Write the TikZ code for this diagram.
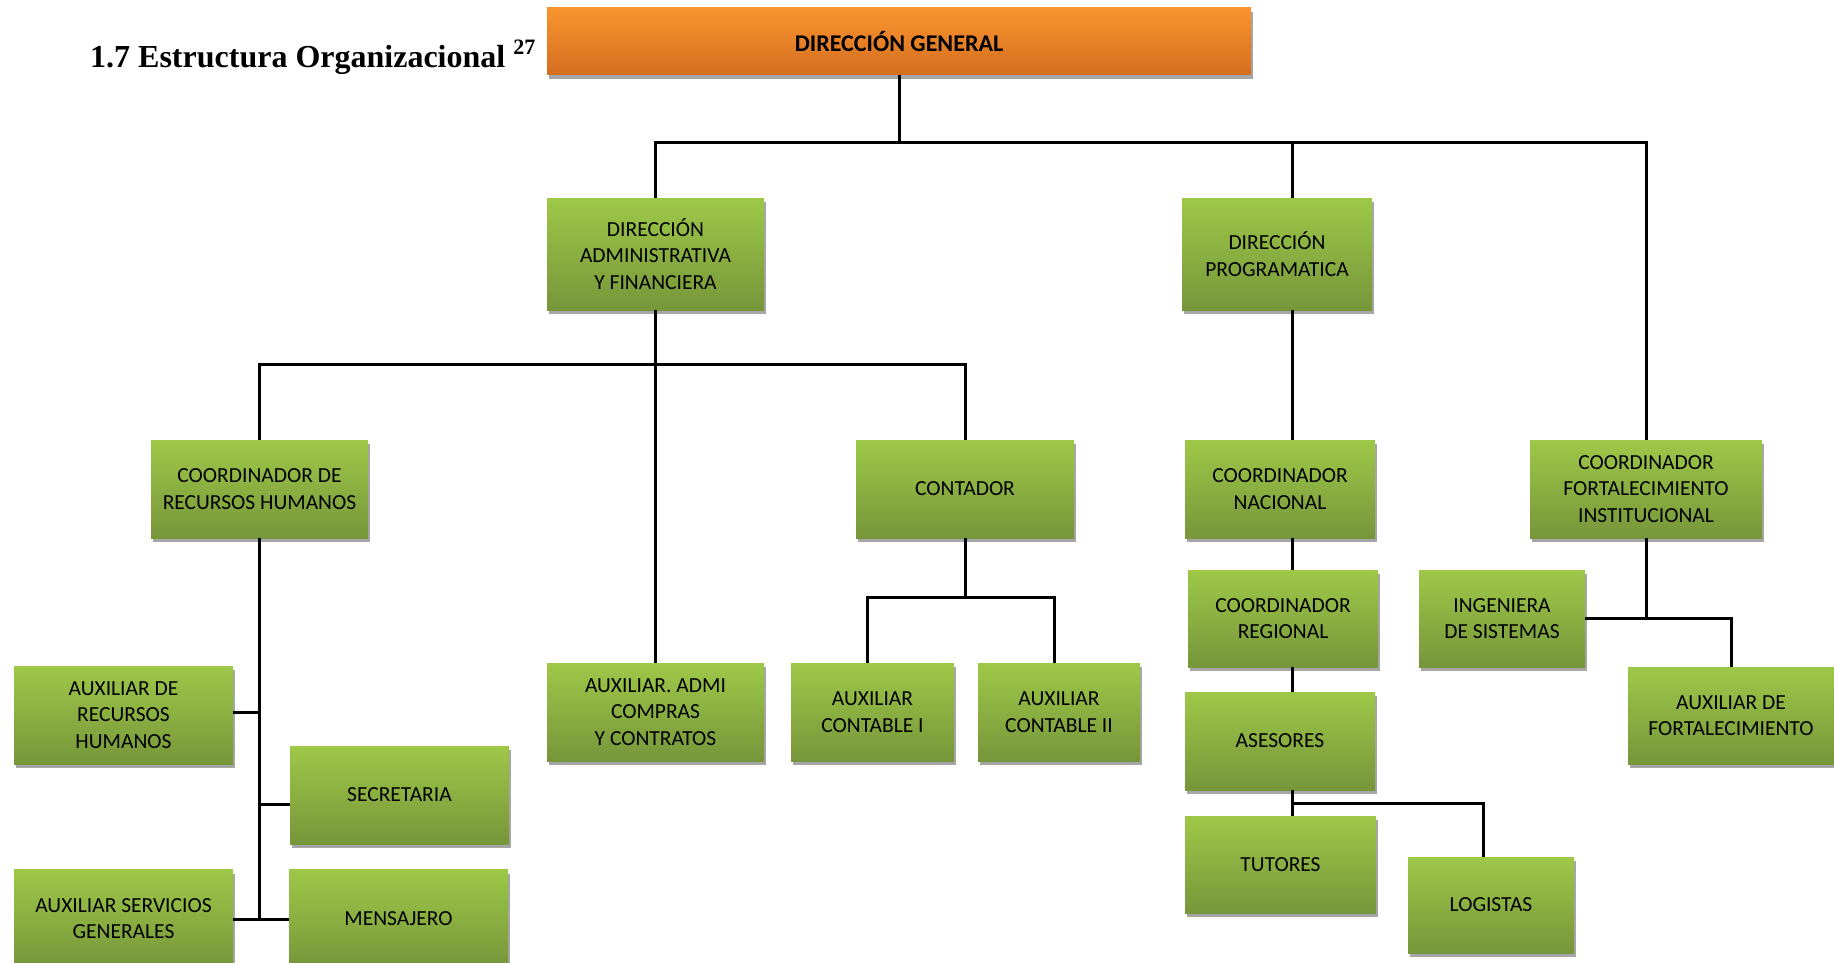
\documentclass[tikz,border=0pt]{standalone}
\usepackage{fontspec}
\setmainfont{Carlito}
\newfontfamily\titlefont{Liberation Serif}
\usetikzlibrary{shadows}
\definecolor{gtop}{RGB}{158,200,72}
\definecolor{gbot}{RGB}{118,150,58}
\definecolor{otop}{RGB}{250,148,46}
\definecolor{obot}{RGB}{212,110,32}
\definecolor{shgray}{RGB}{166,166,166}
\tikzset{
  base/.style={rectangle, inner sep=0pt, align=center,
    font=\fontsize{21.5}{26.5}\selectfont,
    general shadow={fill=shgray, shadow xshift=2pt, shadow yshift=-4pt}},
  gbox/.style={base, top color=gtop, bottom color=gbot},
  obox/.style={base, top color=otop, middle color=otop, bottom color=obot, font=\bfseries\fontsize{24}{28}\selectfont},
  conn/.style={line width=3pt, black},
}
\begin{document}
\begin{tikzpicture}[x=1pt, y=-1pt]
\useasboundingbox (0,0) rectangle (1834,963);
\node[anchor=base west, font=\titlefont\bfseries\fontsize{32}{36}\selectfont, inner sep=0pt] (title) at (90,68)
  {1.7 Estructura Organizacional {\fontsize{22}{22}\selectfont\raisebox{13pt}{27}}};

\node[obox, minimum width=704pt, minimum height=67pt] (dg) at (899,41.5) {DIRECCIÓN GENERAL};
\node[gbox, minimum width=217pt, minimum height=112pt] (daf) at (655.5,254) {DIRECCIÓN\\ADMINISTRATIVA\\Y FINANCIERA};
\node[gbox, minimum width=190pt, minimum height=112pt] (dp) at (1277,254) {DIRECCIÓN\\PROGRAMATICA};
\node[gbox, minimum width=217pt, minimum height=98pt] (crh) at (259.5,489) {COORDINADOR DE\\RECURSOS HUMANOS};
\node[gbox, minimum width=218pt, minimum height=98pt] (cont) at (965,489) {CONTADOR};
\node[gbox, minimum width=190pt, minimum height=98pt] (cn) at (1280,489) {COORDINADOR\\NACIONAL};
\node[gbox, minimum width=232pt, minimum height=98pt] (cfi) at (1646,489) {COORDINADOR\\FORTALECIMIENTO\\INSTITUCIONAL};
\node[gbox, minimum width=190pt, minimum height=97pt] (cr) at (1283,618.5) {COORDINADOR\\REGIONAL};
\node[gbox, minimum width=166pt, minimum height=97pt] (ing) at (1502,618.5) {INGENIERA\\DE SISTEMAS};
\node[gbox, minimum width=206pt, minimum height=97pt] (afort) at (1731,715.5) {AUXILIAR DE\\FORTALECIMIENTO};
\node[gbox, minimum width=219pt, minimum height=98pt] (arh) at (123.5,715) {AUXILIAR DE\\RECURSOS\\HUMANOS};
\node[gbox, minimum width=219pt, minimum height=98pt] (sec) at (399.5,795) {SECRETARIA};
\node[gbox, minimum width=219pt, minimum height=98pt] (asg) at (123.5,918.5) {AUXILIAR SERVICIOS\\GENERALES};
\node[gbox, minimum width=219pt, minimum height=98pt] (men) at (398.5,918.5) {MENSAJERO};
\node[gbox, minimum width=217pt, minimum height=98pt] (aadmi) at (655.5,712) {AUXILIAR. ADMI\\COMPRAS\\Y CONTRATOS};
\node[gbox, minimum width=163pt, minimum height=98pt] (ac1) at (872.5,712) {AUXILIAR\\CONTABLE I};
\node[gbox, minimum width=162pt, minimum height=98pt] (ac2) at (1059,712) {AUXILIAR\\CONTABLE II};
\node[gbox, minimum width=190pt, minimum height=98pt] (ases) at (1280,741) {ASESORES};
\node[gbox, minimum width=191pt, minimum height=97pt] (tut) at (1280.5,864.5) {TUTORES};
\node[gbox, minimum width=166pt, minimum height=96pt] (log) at (1491,905) {LOGISTAS};

% coordinates of junctions
\coordinate (j1) at (899,143);
\coordinate (px) at (1292,143);
\coordinate (j2) at (655.5,364);
\coordinate (t) at (259.5,919.5);
\coordinate (sa) at (259.5,712.5);
\coordinate (sb) at (259.5,804);
\coordinate (c1) at (867,597);
\coordinate (c2) at (1054,597);
\coordinate (lg) at (1483,803);

% top level
\draw[conn] (dg.south) -- (j1);
\draw[conn] (daf.north) |- (cfi.north |- j1) -- (cfi.north);
\draw[conn] (px) -- (px |- dp.north);
% administrative branch
\draw[conn] (daf.south) -- (aadmi.north);
\draw[conn] (crh.north) |- (cont.north |- j2) -- (cont.north);
% human resources
\draw[conn] (crh.south) -- (t);
\draw[conn] (asg.east |- t) -- (men.west |- t);
\draw[conn] (arh.east |- sa) -- (sa);
\draw[conn] (sb) -- (sec.west |- sb);
% contador
\draw[conn] (cont.south) -- (cont.south |- c1);
\draw[conn] (c1 |- ac1.north) -- (c1) -- (c2) -- (c2 |- ac2.north);
% programatica column
\draw[conn] (px |- dp.south) -- (px |- cn.north);
\draw[conn] (px |- cn.south) -- (px |- cr.north);
\draw[conn] (px |- cr.south) -- (px |- ases.north);
\draw[conn] (px |- ases.south) -- (px |- tut.north);
\draw[conn] (px |- lg) -- (lg) -- (lg |- log.north);
% fortalecimiento
\draw[conn] (cfi.south) -- (cfi.south |- ing.east);
\draw[conn] (ing.east) -| (afort.north);
\end{tikzpicture}
\end{document}
